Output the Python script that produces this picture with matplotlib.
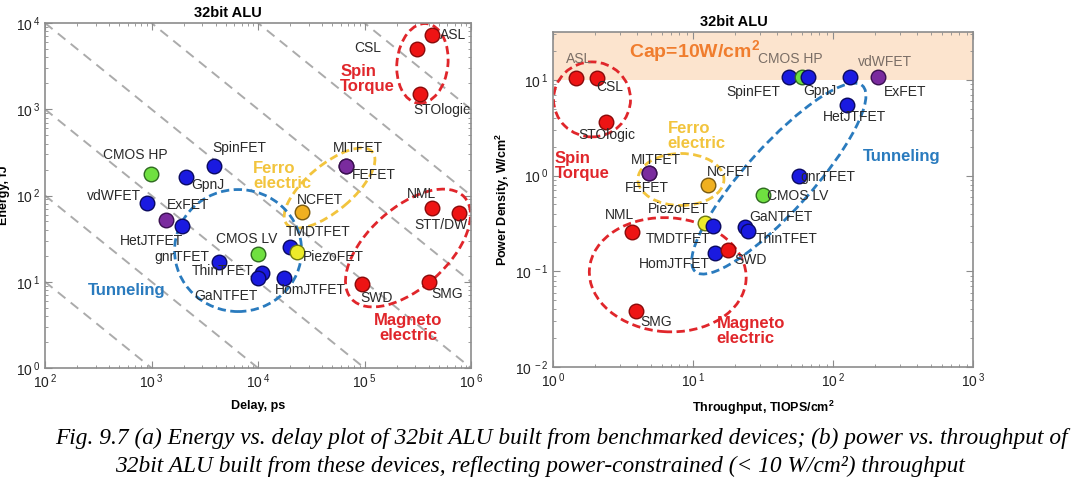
import numpy as np
import matplotlib
matplotlib.use('Agg')
import matplotlib.pyplot as plt
from matplotlib.patches import Ellipse
from matplotlib.transforms import ScaledTranslation
from matplotlib.ticker import FuncFormatter

plt.rcParams['font.family'] = ['Liberation Sans', 'DejaVu Sans']

# ---- (a) energy vs delay ----
ed_names = ['ASL', 'CSL', 'STOlogic', 'MITFET', 'FEFET', 'NCFET', 'TMDTFET', 'PiezoFET',
            'HomJTFET', 'NML', 'STT/DW', 'SWD', 'SMG', 'CMOS LV', 'gnrTFET', 'ThinTFET',
            'GaNTFET', 'ExFET', 'HetJTFET', 'vdWFET', 'CMOS HP', 'GpnJ', 'SpinFET']
ed_delay = [4.3e5, 3.1e5, 3.3e5, 6.7e4, 6.7e4, 2.6e4, 2.0e4, 2.3e4,
            1.75e4, 4.3e5, 7.7e5, 9.5e4, 4.0e5, 1.0e4, 4.3e3, 1.09e4,
            1.0e4, 1.37e3, 1.93e3, 910, 990, 2.1e3, 3.9e3]
ed_energy = [7.3e3, 5.0e3, 1.5e3, 220, 220, 64, 25, 22,
             11, 72, 63, 9.4, 10, 21, 17, 12.6,
             11, 52, 44, 82, 177, 164, 220]
ed_kind = ['spin', 'spin', 'spin', 'mit', 'mit', 'ncfet', 'tfet', 'piezo',
           'tfet', 'spin', 'spin', 'spin', 'spin', 'cmos', 'tfet', 'tfet',
           'tfet', 'mit', 'tfet', 'tfet', 'cmos', 'tfet', 'tfet']
# label offsets in pixels (dx, dy)
ed_off = [(21, 0), (-49, 1), (22, -16), (12, 18), (28, -9), (18, 12), (28, 15), (37, -5),
          (26, -12), (-10, 14), (-18, -12), (14, -14), (19, -12), (-11, 15), (-37, 5), (-39, 2),
          (-32, -18), (22, 15), (-30, -15), (-33, 7), (-16, 19), (22, -8), (25, 18)]

# ---- (b) power density vs throughput ----
pt_names = ['ASL', 'CSL', 'STOlogic', 'MITFET', 'FEFET', 'NCFET', 'PiezoFET', 'TMDTFET',
            'HomJTFET', 'SWD', 'NML', 'SMG', 'CMOS LV', 'gnrTFET', 'GaNTFET', 'ThinTFET',
            'SpinFET', 'CMOS HP', 'GpnJ', 'vdWFET', 'ExFET', 'HetJTFET']
pt_thru = [1.46, 2.06, 2.39, 4.85, 4.85, 12.8, 12.2, 13.9,
           14.4, 17.8, 3.67, 3.92, 31.6, 57, 23.5, 24.7,
           48.5, 60, 66, 132, 210, 126]
pt_power = [10.4, 10.4, 3.6, 1.07, 1.07, 0.80, 0.32, 0.30,
            0.156, 0.168, 0.26, 0.0386, 0.63, 0.98, 0.29, 0.265,
            10.6, 10.6, 10.6, 10.6, 10.6, 5.4]
pt_kind = ['spin', 'spin', 'spin', 'mit', 'mit', 'ncfet', 'piezo', 'tfet',
           'tfet', 'spin', 'spin', 'spin', 'cmos', 'tfet', 'tfet', 'tfet',
           'tfet', 'cmos', 'tfet', 'tfet', 'mit', 'tfet']
pt_off = [(3, 19), (13, -9), (1, -13), (7, 13), (-2, -15), (22, 13), (-27, 14), (-35, -13),
          (-41, -11), (22, -10), (-13, 17), (20, -11), (35, -1), (29, -1), (36, 10), (39, -8),
          (-36, -15), (-12, 18), (12, -14), (35, 15), (27, -15), (7, -12)]
pt_muted = ['ASL', 'CMOS HP', 'vdWFET']
cap = 10

fill = {'spin': '#EE1414', 'tfet': '#1A1AE0', 'cmos': '#6FE040', 'mit': '#7A2B9E',
        'ncfet': '#F0B020', 'piezo': '#EDEB2A'}
edge = {'spin': '#8A0A0A', 'tfet': '#0A0A60', 'cmos': '#2E6A20', 'mit': '#3A1050',
        'ncfet': '#7A5A10', 'piezo': '#6E7A10'}

RED, GOLD, BLUE = '#E0262B', '#F2C43D', '#2A7BBE'

fig = plt.figure(figsize=(10.8, 4.91), dpi=100)
ax1 = fig.add_axes([45/1080, 1-368/491, 426/1080, 345/491])
ax2 = fig.add_axes([553/1080, 1-367/491, 420/1080, 335/491])


def ring(ax, x, y, w, h, ang, color):
    tr = fig.dpi_scale_trans + ScaledTranslation(x, y, ax.transData)
    ax.add_patch(Ellipse((0, 0), w/100, h/100, angle=ang, transform=tr, fill=False,
                         ls=(0, (3, 1.6)), lw=2, edgecolor=color, zorder=2))


def fmt(v, pos):
    return r'$\mathregular{10^{\,%d}}$' % int(round(np.log10(v)))


def style(ax):
    ax.set_xscale('log')
    ax.set_yscale('log')
    for s in ax.spines.values():
        s.set_color('#8C8C8C')
        s.set_linewidth(1.2)
    ax.tick_params(which='both', direction='in', top=True, right=True, colors='#8C8C8C',
                   labelcolor='#222222', labelsize=10)
    ax.tick_params(which='major', length=5)
    ax.tick_params(which='minor', length=2.5)
    ax.xaxis.set_major_formatter(FuncFormatter(fmt))
    ax.yaxis.set_major_formatter(FuncFormatter(fmt))
    ax.xaxis.set_minor_formatter(plt.NullFormatter())
    ax.yaxis.set_minor_formatter(plt.NullFormatter())


def points(ax, xs, ys, kinds, names, offs, muted=()):
    for x, y, k, n, o in zip(xs, ys, kinds, names, offs):
        ax.scatter(x, y, s=110, c=fill[k], edgecolors=edge[k], linewidths=1, zorder=4)
        ax.annotate(n, (x, y), xytext=o, textcoords='offset pixels', ha='center', va='center',
                    fontsize=10, color='#7A6E66' if n in muted else '#2A2A2A', zorder=5)


# ----- left panel -----
style(ax1)
ax1.set_xlim(1e2, 1e6)
ax1.set_ylim(1e0, 1e4)
dx = np.logspace(2, 6, 50)
for p in range(3, 11):
    ax1.plot(dx, 10.0**p / dx, color='#ABABAB', ls=(0, (5, 3.5)), lw=1.4, zorder=1)
ring(ax1, 3.5e5, 3.4e3, 51, 80, -6, RED)
ring(ax1, 4.7e4, 122, 112, 46, 40, GOLD)
ring(ax1, 6.5e3, 23, 127, 122, 0, BLUE)
ring(ax1, 2.56e5, 24.6, 152, 80, 42, RED)
points(ax1, ed_delay, ed_energy, ed_kind, ed_names, ed_off)
gk = dict(fontsize=12, fontweight='bold', va='center', linespacing=1.0, zorder=5)
ax1.text(5.9e4, 2.24e3, 'Spin\nTorque', color=RED, ha='left', **gk)
ax1.text(9.0e3, 168, 'Ferro\nelectric', color=GOLD, ha='left', **gk)
ax1.text(590, 8.0, 'Tunneling', color=BLUE, ha='center', **gk)
ax1.text(2.56e5, 2.9, 'Magneto\nelectric', color=RED, ha='center', **gk)
ax1.set_title('32bit ALU', fontsize=10.5, fontweight='bold', x=0.43, pad=4)
ax1.set_xlabel('Delay, ps', fontsize=9, fontweight='bold', labelpad=6)
ax1.set_ylabel('Energy, fJ', fontsize=9, fontweight='bold', labelpad=4)

# ----- right panel -----
style(ax2)
ax2.set_xlim(1e0, 1e3)
ax2.set_ylim(1e-2, 10**1.5)
ax2.axhspan(cap, 10**1.5, color='#FCE4CE', zorder=0, lw=0)
ring(ax2, 1.9, 6.25, 77, 75, 0, RED)
ring(ax2, 8.2, 0.91, 86, 52, 0, GOLD)
ring(ax2, 6.6, 0.092, 157, 114, -4, RED)
ring(ax2, 41, 0.93, 250, 66, 48, BLUE)
points(ax2, pt_thru, pt_power, pt_kind, pt_names, pt_off, pt_muted)
ax2.text(10.3, 19.9, 'Cap=10W/cm$^\\mathregular{2}$', color='#F07D2E', fontsize=14,
         fontweight='bold', ha='center', va='center', zorder=5)
ax2.text(1.03, 1.27, 'Spin\nTorque', color=RED, ha='left', **gk)
ax2.text(6.6, 2.62, 'Ferro\nelectric', color=GOLD, ha='left', **gk)
ax2.text(14.8, 0.0238, 'Magneto\nelectric', color=RED, ha='left', **gk)
ax2.text(311, 1.58, 'Tunneling', color=BLUE, ha='center', **gk)
ax2.set_title('32bit ALU', fontsize=10.5, fontweight='bold', x=0.43, pad=4)
ax2.set_xlabel('Throughput, TIOPS/cm$^\\mathregular{2}$', fontsize=9, fontweight='bold', labelpad=6)
ax2.set_ylabel('Power Density, W/cm$^\\mathregular{2}$', fontsize=9, fontweight='bold', labelpad=2)

cap1 = 'Fig. 9.7 (a) Energy vs. delay plot of 32bit ALU built from benchmarked devices; (b) power vs. throughput of'
cap2 = '32bit ALU built from these devices, reflecting power-constrained (< 10 W/cm\u00b2) throughput'
fig.text(0.52, 1-438/491, cap1, ha='center', va='center', fontsize=16.8,
         family='Liberation Serif', style='italic')
fig.text(0.5, 1-466/491, cap2, ha='center', va='center', fontsize=16.8,
         family='Liberation Serif', style='italic')

fig.savefig('out.png', dpi=100, facecolor='white')
